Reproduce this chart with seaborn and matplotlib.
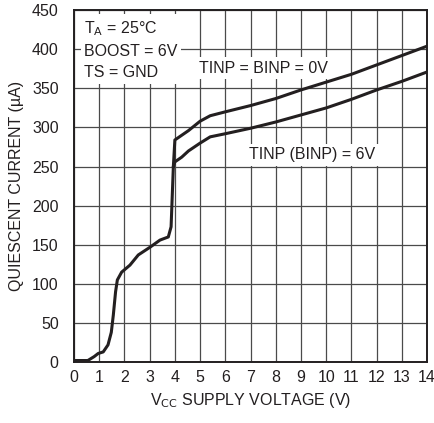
import pandas as pd
import matplotlib.pyplot as plt
import seaborn as sns

sns.set_style("white")
plt.rcParams["font.family"] = ["Liberation Sans Narrow", "Liberation Sans", "DejaVu Sans"]

# --- Data ---
vcc_low = [0.0, 0.55, 0.8, 0.96, 1.16, 1.35, 1.48, 1.56, 1.65, 1.72, 1.89, 2.22,
           2.55, 3.02, 3.41, 3.74, 3.85, 3.94]
iq_low = [2, 2, 7, 11, 13, 22, 38, 60, 90, 105, 115, 124, 137, 147, 156, 160, 173, 250]

vcc_hi = [3.94, 4.0, 4.27, 4.54, 5.0, 5.4, 6.0, 7.0, 8.0, 9.0, 10.0, 11.0, 12.0, 13.0, 14.0]
iq_0v = [250, 284, 290, 296, 308, 315, 320, 328, 337, 348, 358, 368, 380, 392, 404]
iq_6v = [250, 256, 262, 270, 280, 288, 292, 299, 307, 316, 325, 336, 348, 359, 371]

df = pd.concat([
    pd.DataFrame({"vcc": vcc_low, "iq": iq_low, "curve": "low"}),
    pd.DataFrame({"vcc": vcc_hi, "iq": iq_0v, "curve": "0V"}),
    pd.DataFrame({"vcc": vcc_hi, "iq": iq_6v, "curve": "6V"}),
])

# --- Plotting ---
fig = plt.figure(figsize=(4.35, 4.23), dpi=100)
ax = fig.add_axes([0.170, 0.144, 0.812, 0.832])

sns.lineplot(data=df, x="vcc", y="iq", units="curve", estimator=None, sort=False,
             color="#231f20", linewidth=2.2, ax=ax, legend=False)

ax.set_xlim(0, 14)
ax.set_ylim(0, 450)
ax.set_xticks(range(0, 15))
ax.set_yticks(range(0, 451, 50))
ax.grid(True, color="#4a4a4a", linewidth=0.9)
ax.set_axisbelow(True)
for s in ax.spines.values():
    s.set_color("#231f20")
    s.set_linewidth(1.4)
ax.tick_params(axis="both", labelsize=11.5, length=0, colors="#231f20")
ax.tick_params(axis="x", pad=6)
ax.tick_params(axis="y", pad=11)

ax.set_xlabel("V$_{\\rm CC}$ SUPPLY VOLTAGE (V)", fontsize=11.5, color="#231f20", labelpad=4)
ax.set_ylabel("QUIESCENT CURRENT (µA)", fontsize=11.5, color="#231f20", labelpad=6)

ax.text(0.4, 438, "T$_{\\rm A}$ = 25°C\nBOOST = 6V\nTS = GND", fontsize=11.5, va="top",
        ha="left", linespacing=1.5, color="#231f20",
        bbox=dict(facecolor="white", edgecolor="none", pad=2.5))
ax.text(4.95, 376, "TINP = BINP = 0V", fontsize=11.5, va="center", ha="left", color="#231f20",
        bbox=dict(facecolor="white", edgecolor="none", pad=2.5))
ax.text(6.95, 265, "TINP (BINP) = 6V", fontsize=11.5, va="center", ha="left", color="#231f20",
        bbox=dict(facecolor="white", edgecolor="none", pad=2.5))

plt.savefig("out.png", dpi=100)
